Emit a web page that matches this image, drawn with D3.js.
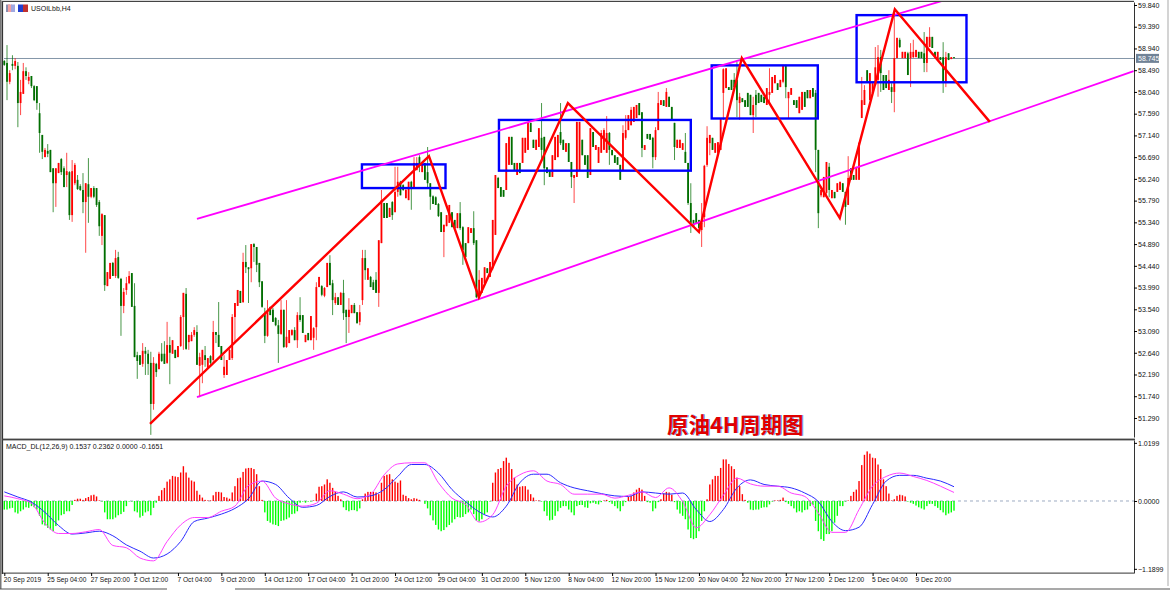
<!DOCTYPE html>
<html>
<head>
<meta charset="utf-8">
<script src="https://cdn.jsdelivr.net/npm/d3@7"></script>
<style>
body { margin: 0; background: #fff; }
text { font-family: "Liberation Sans", Arial, sans-serif; fill: #111; }
</style>
</head>
<body>
<svg id="chart" width="1170" height="591"></svg>
<script>
// USOIL H4 candles, one row = 10 bars
const opens = [
58.68,58.64,58.25,58.62,58.58,58.58,57.81,58.00,58.47,58.27,
58.37,58.16,58.16,57.60,57.15,56.69,56.82,56.84,56.46,56.15,
56.36,56.65,56.46,56.32,56.38,55.49,56.15,56.22,56.09,56.01,
55.76,56.13,55.87,56.05,56.05,55.76,55.06,55.49,54.02,54.17,
54.50,54.23,54.62,54.17,53.61,53.94,54.08,54.29,53.61,52.59,
52.59,52.41,52.68,52.62,52.43,51.58,52.41,52.30,52.62,52.62,
52.43,52.80,52.62,52.70,52.55,52.78,53.38,53.86,52.86,52.88,
53.01,53.07,52.37,52.39,52.59,52.33,52.57,52.49,53.07,53.01,
52.78,52.18,52.18,52.49,52.53,53.38,53.61,53.92,53.69,54.52,
54.41,54.39,54.89,54.83,54.50,54.12,53.46,52.99,53.59,53.53,
53.36,53.21,53.03,53.53,52.76,52.84,53.01,53.11,52.90,53.42,
53.42,52.86,53.05,52.90,52.95,53.17,54.00,54.02,53.82,54.00,
54.50,54.08,53.67,53.79,53.63,53.88,53.53,53.38,53.46,53.63,
53.48,53.28,53.73,54.60,54.15,54.21,54.10,54.15,53.88,54.91,
55.74,55.74,55.45,55.76,55.55,55.97,56.18,56.11,55.84,55.80,
56.18,56.05,56.42,56.69,56.38,56.57,56.38,56.15,55.88,55.86,
55.72,55.55,55.14,55.26,55.33,55.55,55.39,55.22,55.53,55.24,
54.91,54.91,55.12,55.22,54.97,53.79,53.88,54.08,54.39,54.21,
54.39,55.08,56.26,56.07,56.01,56.01,56.53,57.11,56.57,56.32,
56.57,56.57,56.78,56.84,57.40,57.05,56.84,56.90,57.09,57.11,
56.48,56.42,56.28,56.63,56.69,57.21,57.05,56.80,56.98,56.59,
56.26,56.28,56.42,57.05,56.73,56.73,56.32,57.21,56.84,56.57,
56.78,56.84,56.78,57.19,56.84,56.73,56.69,56.53,56.42,57.09,
57.25,57.35,57.42,57.50,57.81,57.62,56.84,57.17,57.17,57.09,
56.69,57.25,57.77,57.87,57.73,57.94,57.73,57.40,56.88,56.88,
56.84,56.80,56.57,55.74,55.39,55.53,55.39,55.18,55.45,56.53,
56.98,57.09,56.78,56.78,56.84,58.02,58.12,58.14,58.29,58.29,
58.29,57.81,57.91,57.87,58.02,57.98,57.56,57.98,58.02,57.98,
57.94,57.77,57.98,58.02,58.22,58.22,58.14,58.25,58.60,57.91,
57.98,57.87,57.87,57.60,57.67,58.04,58.08,57.91,58.12,58.02,
56.84,55.90,55.86,55.95,56.49,55.84,55.97,55.97,56.01,56.15,
55.97,55.70,56.46,56.32,56.22,56.22,57.50,57.77,58.49,57.87,
58.02,58.18,58.29,58.76,58.39,58.39,58.08,58.14,58.04,58.74,
59.12,58.74,58.74,58.84,58.74,58.76,58.76,58.87,58.87,58.84,
58.64,58.97,59.18,58.87,58.70,58.76,58.76,58.25,58.84,58.72,
58.76];
const highs = [
58.70,59.01,58.49,58.80,58.74,58.66,58.29,58.64,58.55,58.45,
58.37,58.18,58.16,57.81,57.15,56.88,56.96,56.84,56.46,56.46,
56.57,56.67,56.50,56.78,56.40,56.63,56.57,56.32,56.13,56.36,
56.15,56.67,56.05,56.09,56.05,55.80,55.53,55.49,54.31,54.50,
54.52,54.77,54.73,54.19,53.98,54.21,54.33,54.29,54.08,52.66,
52.59,52.84,52.76,52.70,52.66,52.55,52.43,52.66,52.84,52.88,
53.28,52.97,52.90,52.70,52.78,53.42,53.88,53.98,53.01,53.07,
53.17,53.21,52.64,52.70,52.78,52.53,52.59,53.30,53.07,53.69,
52.78,52.59,52.49,52.76,53.44,53.67,53.94,53.92,54.71,54.87,
54.41,54.89,54.91,54.83,54.50,54.12,53.57,53.73,53.59,53.57,
53.38,53.32,53.73,53.53,53.73,53.11,53.13,53.17,53.48,53.79,
53.42,53.01,53.05,53.40,53.17,54.10,54.21,54.04,54.00,54.50,
54.66,54.15,53.88,53.79,53.90,54.15,53.53,53.77,53.63,53.67,
53.48,53.63,54.77,54.77,54.39,54.23,54.15,54.31,54.97,56.01,
55.74,55.74,55.64,55.78,56.49,56.49,56.20,56.13,56.03,56.18,
56.20,56.69,56.69,56.73,56.59,56.57,56.90,56.15,55.90,55.88,
55.74,55.55,55.29,55.49,55.70,55.55,55.39,55.53,55.76,55.26,
54.91,55.24,55.22,55.57,54.97,54.35,54.19,54.41,54.39,54.52,
55.39,56.32,56.28,56.07,56.01,56.98,57.11,57.11,56.57,56.57,
56.57,57.09,57.09,57.40,57.40,57.05,57.05,57.29,57.81,57.11,
56.48,56.42,56.73,57.11,57.15,57.81,57.05,56.98,56.98,56.59,
56.32,57.42,57.42,57.05,56.73,56.73,57.29,57.21,56.94,56.90,
57.25,57.29,57.54,57.21,56.84,56.73,56.69,56.53,57.35,57.56,
57.56,57.73,57.73,57.77,57.81,57.62,56.94,57.17,57.17,57.11,
57.31,58.04,57.87,57.87,58.12,57.94,57.73,57.40,57.05,57.05,
56.98,57.19,56.57,56.15,55.39,55.53,55.39,55.74,56.53,57.33,
57.15,57.09,56.98,57.00,57.50,58.53,58.53,58.14,58.29,58.43,
58.66,58.02,57.91,57.87,58.02,57.98,57.94,58.08,58.02,57.98,
57.94,58.12,58.53,58.35,58.39,58.22,58.29,58.60,58.60,58.04,
58.12,57.87,57.87,57.94,58.04,58.04,58.08,58.08,58.12,58.08,
56.84,56.07,56.28,56.59,56.57,56.01,55.97,56.15,56.18,56.15,
55.97,56.71,56.46,56.32,56.49,57.00,58.35,58.18,58.49,58.43,
58.22,58.97,59.01,58.91,58.39,58.39,58.49,58.22,59.74,59.16,
59.16,58.87,58.87,58.87,59.05,59.12,58.91,58.87,58.87,59.28,
59.18,59.38,59.18,58.87,58.87,58.76,59.07,58.87,58.84,58.76,
58.76];
const lows = [
58.58,57.87,58.20,58.49,58.51,57.31,57.56,58.00,58.29,58.20,
58.12,57.85,57.67,56.78,56.65,56.69,56.69,56.38,55.55,55.66,
56.36,56.32,56.07,56.07,55.39,55.35,56.11,56.01,55.99,55.53,
54.71,55.33,55.84,55.84,55.66,55.06,54.87,53.92,54.02,54.17,
54.23,54.19,54.17,52.99,53.46,53.84,54.06,53.59,52.55,52.10,
52.39,52.35,52.18,52.18,50.94,51.46,52.14,52.30,52.45,52.41,
52.41,51.99,52.62,52.53,52.55,52.76,52.70,52.70,52.70,52.88,
52.97,52.39,51.72,52.01,52.35,52.33,52.35,52.45,52.84,52.76,
52.49,52.12,52.18,52.49,52.49,52.84,53.61,53.67,53.67,54.29,
53.67,54.10,54.52,54.31,54.00,53.57,52.84,52.97,53.42,53.28,
53.19,52.43,53.01,52.74,52.74,52.84,52.99,52.90,52.74,53.28,
53.05,52.86,52.90,52.90,52.70,52.90,54.00,53.81,53.79,54.00,
54.04,53.42,53.63,53.63,53.63,53.32,52.84,53.05,53.46,53.46,
53.25,53.21,53.63,54.15,54.15,54.00,53.94,53.88,53.59,54.91,
55.43,55.43,55.45,55.39,55.55,55.87,55.90,55.99,55.84,55.80,
55.60,56.05,56.42,56.38,56.38,56.22,56.07,55.60,55.72,55.70,
55.45,55.14,54.62,55.26,55.33,55.24,55.22,55.22,55.18,54.46,
54.62,54.91,55.12,54.87,53.77,53.79,53.88,54.08,54.29,54.21,
54.35,55.08,56.05,55.87,55.87,56.01,56.53,56.53,56.42,56.32,
56.36,56.57,56.78,56.84,57.21,56.88,56.84,56.90,56.63,56.11,
56.36,56.28,56.28,56.63,56.69,56.94,56.84,56.80,56.59,56.05,
55.74,56.28,56.42,56.73,56.53,56.26,56.32,56.90,56.84,56.57,
56.78,56.84,56.78,56.53,56.73,56.57,56.53,56.22,56.42,57.05,
57.25,57.35,57.42,57.50,57.56,56.69,56.84,57.07,57.05,56.46,
56.63,57.25,57.77,57.75,57.73,57.73,57.46,56.63,56.88,56.88,
56.84,56.57,55.70,55.12,55.24,55.33,55.22,54.83,55.24,56.49,
56.73,56.84,56.78,56.78,56.84,57.46,58.12,58.08,58.08,58.08,
57.52,57.46,57.83,57.73,57.73,57.56,57.19,57.52,57.81,57.83,
57.81,57.77,57.77,58.02,58.22,58.08,58.14,58.22,57.91,57.50,
57.98,57.77,57.71,57.60,57.67,57.73,57.91,57.91,57.94,56.38,
55.22,55.86,55.86,55.90,55.86,55.84,55.84,55.97,56.01,55.97,
55.29,55.70,56.22,56.22,56.22,56.22,57.50,57.77,58.25,57.87,
58.02,58.18,57.94,58.04,58.08,58.12,58.08,57.81,57.62,58.74,
58.95,58.74,58.74,58.39,58.14,58.74,58.76,58.74,58.74,58.45,
58.45,58.97,58.95,58.76,58.70,58.70,58.02,58.14,58.70,58.72,
58.74];
const closes = [
58.60,58.25,58.43,58.58,58.68,57.81,58.04,58.47,58.37,58.35,
58.16,57.87,57.81,57.19,56.80,56.84,56.76,56.38,56.15,56.46,
56.57,56.38,56.07,56.40,55.49,56.40,56.53,56.03,56.01,55.76,
56.15,55.87,56.05,55.87,55.70,55.26,55.51,54.04,54.31,54.50,
54.23,54.60,54.19,53.61,53.90,54.08,54.23,53.59,52.55,52.47,
52.39,52.68,52.62,52.41,51.58,52.43,52.24,52.62,52.47,52.41,
52.80,52.64,52.90,52.53,52.78,53.38,53.88,52.72,53.01,53.01,
53.11,52.39,52.55,52.70,52.49,52.53,52.43,53.07,53.01,52.76,
52.49,52.35,52.49,52.70,53.38,53.67,53.94,53.67,54.52,54.41,
54.37,54.89,54.83,54.46,54.10,53.59,52.99,53.48,53.42,53.28,
53.21,53.03,53.53,52.76,52.97,53.11,53.11,52.90,53.42,53.32,
53.05,53.01,52.90,53.40,53.15,54.00,54.21,53.84,53.98,54.50,
54.04,53.73,53.79,53.63,53.88,53.46,53.38,53.53,53.63,53.46,
53.25,53.48,54.60,54.35,54.39,54.00,53.94,53.88,54.97,55.80,
55.43,55.43,55.64,55.49,55.97,56.18,55.90,56.01,56.01,56.18,
56.05,56.57,56.57,56.53,56.57,56.22,56.15,55.87,55.72,55.70,
55.47,55.14,55.29,55.49,55.70,55.24,55.22,55.53,55.22,54.77,
54.62,55.24,55.22,54.91,53.79,54.15,54.19,54.41,54.29,54.52,
55.39,56.32,56.05,55.87,55.87,56.98,57.11,56.53,56.42,56.57,
56.36,57.09,57.09,57.40,57.21,56.88,57.05,57.29,56.84,56.46,
56.36,56.28,56.73,57.11,57.15,56.98,56.84,56.98,56.59,56.28,
56.32,57.42,57.42,56.73,56.53,56.26,57.29,56.90,56.94,56.90,
57.19,57.25,57.19,56.84,56.73,56.57,56.53,56.22,57.19,57.25,
57.56,57.67,57.73,57.77,57.56,56.88,56.94,57.07,57.05,56.69,
57.25,57.81,57.87,57.75,58.04,57.73,57.46,56.90,57.05,57.05,
56.98,56.57,55.74,55.33,55.24,55.33,55.22,55.33,56.51,57.09,
57.15,56.84,56.98,57.00,57.50,58.51,58.53,58.08,58.08,58.14,
57.87,57.94,57.83,57.73,57.73,57.56,57.77,57.77,57.81,57.83,
57.81,58.12,58.04,58.35,58.39,58.08,58.29,58.60,58.14,58.04,
58.12,57.77,57.71,57.94,58.04,57.73,57.91,58.08,57.94,56.84,
55.53,56.01,56.28,56.59,56.01,56.01,55.84,56.15,56.18,55.97,
55.66,56.26,56.22,56.22,56.49,56.98,57.87,58.08,58.25,58.43,
58.22,58.55,58.76,58.43,58.08,58.12,58.29,58.04,58.74,59.16,
58.97,58.87,58.87,58.39,58.87,58.87,58.91,58.74,58.74,58.64,
59.18,59.18,58.95,58.76,58.87,58.70,58.25,58.76,58.70,58.76,
58.745];

// MACD_DL(12,26,9) histogram, one row = 10 bars
const macdHist = [
-.15,-.15,-.13,-.12,-.20,-.22,-.18,-.15,-.11,-.12,
-.09,-.11,-.15,-.26,-.41,-.43,-.47,-.50,-.53,-.44,
-.34,-.25,-.23,-.18,-.18,-.07,.02,.04,.04,.02,
.05,.07,.10,.11,.08,.01,-.01,-.20,-.32,-.32,
-.32,-.29,-.25,-.23,-.19,-.09,-.01,-.01,-.18,-.20,
-.29,-.26,-.20,-.18,-.25,-.12,-.03,.09,.19,.23,
.34,.38,.44,.43,.42,.50,.61,.50,.41,.36,
.34,.18,.11,.06,.02,.01,.01,.10,.16,.16,
.15,.07,.06,.04,.15,.26,.40,.41,.51,.57,
.58,.58,.56,.47,.26,.02,-.20,-.35,-.38,-.41,
-.42,-.44,-.35,-.34,-.32,-.29,-.23,-.22,-.18,-.03,
-.01,-.03,-.01,-.01,.01,.13,.25,.26,.29,.38,
.32,.23,.16,.09,.03,-.11,-.16,-.18,-.16,-.16,
-.18,-.13,.03,.13,.16,.16,.16,.15,.12,.32,
.44,.46,.47,.38,.34,.32,.36,.11,.09,.05,
.03,.05,.04,.02,.00,-.05,-.13,-.25,-.34,-.42,
-.50,-.53,-.51,-.46,-.42,-.38,-.32,-.28,-.29,-.28,
-.23,-.20,-.15,-.23,-.35,-.36,-.32,-.23,-.20,-.01,
.32,.50,.56,.58,.70,.76,.67,.56,.41,.29,
.25,.26,.26,.20,.12,.06,.01,.01,-.01,-.18,
-.26,-.34,-.33,-.26,-.18,-.12,-.09,-.09,-.15,-.20,
-.25,-.09,-.07,-.07,-.11,-.12,-.04,-.03,-.05,-.06,
-.02,.01,.02,-.02,-.05,-.09,-.13,-.18,-.09,-.02,
.07,.09,.15,.20,.23,.20,.09,-.02,-.03,-.18,
-.13,-.02,.03,.13,.16,.15,.11,-.02,-.15,-.22,
-.26,-.32,-.50,-.65,-.67,-.65,-.53,-.35,-.18,.03,
.29,.38,.44,.44,.58,.73,.73,.65,.61,.56,
.41,.26,.12,.02,-.03,-.15,-.16,-.15,-.15,-.12,
-.11,-.11,-.06,-.01,.01,.01,.02,.06,-.02,-.05,
-.09,-.13,-.20,-.18,-.20,-.16,-.15,-.09,-.07,-.35,
-.53,-.67,-.70,-.58,-.58,-.53,-.38,-.26,-.09,-.09,
-.01,.01,.09,.16,.20,.35,.63,.81,.87,.83,
.76,.75,.64,.56,.38,.26,.13,.01,.03,.09,
.11,.10,.08,-.01,-.03,-.05,-.08,-.11,-.13,-.15,
-.09,-.05,-.05,-.09,-.12,-.16,-.20,-.25,-.22,-.20,
-.17];

// the two MACD lines
const macdLine = [
.09,.04,-.04,-.39,-.57,-.57,-.54,-.50,-.78,-.82,-1.00,-1.05,-.71,-.42,-.29,-.29,-.18,-.09,.27,.35,
.05,-.05,-.09,-.04,.18,.12,.04,.12,.46,.65,
.67,.67,.32,.05,-.06,-.37,-.24,.26,.46,.53,.35,.29,.12,.12,.12,.05,.10,.16,.06,.23,
-.01,-.47,-.24,.10,.40,.30,.26,.26,.14,.08,
-.21,-.55,-.55,-.15,.26,.43,.49,.43,.36,.26,.15];
const signalLine = [
.16,.07,-.02,-.20,-.43,-.58,-.56,-.53,-.61,-.77,-.88,-1.00,-.93,-.71,-.36,-.30,-.23,-.13,.04,.35,
.29,.05,-.11,-.08,.08,.16,.07,.09,.20,.43,
.64,.64,.49,.20,-.01,-.19,-.28,-.09,.32,.47,.47,.32,.23,.18,.13,.09,.08,.16,.14,.12,
.14,-.15,-.36,-.15,.23,.37,.29,.26,.23,.14,
-.01,-.36,-.52,-.46,-.06,.35,.45,.45,.40,.35,.25];
const lineBars = d3.range(0, 351, 5);

const priceTicks = [59.84,59.39,58.94,58.49,58.04,57.59,57.14,56.69,56.24,55.79,55.34,54.89,54.44,53.99,53.54,53.09,52.64,52.19,51.74,51.29];
const macdTicks = [1.0199, 0, -1.1899];
const lastPrice = 58.745;
const timeLabels = ['20 Sep 2019','25 Sep 04:00','27 Sep 20:00','2 Oct 12:00','7 Oct 04:00','9 Oct 20:00','14 Oct 12:00','17 Oct 04:00','21 Oct 20:00','24 Oct 12:00','29 Oct 04:00','31 Oct 20:00','5 Nov 12:00','8 Nov 04:00','12 Nov 20:00','15 Nov 12:00','20 Nov 04:00','22 Nov 20:00','27 Nov 12:00','2 Dec 12:00','5 Dec 04:00','9 Dec 20:00'];
const timeBars = timeLabels.map((d, i) => i * 16);

// hand drawn objects on the chart, [bar, price]
const upperChannel = [[71, 55.41], [346.6, 59.94]];
const lowerChannel = [[71, 51.72], [416.2, 58.47]];
const zigzag = [[53.7, 51.17], [156.5, 56.71], [174.9, 53.79], [207.7, 57.81], [256, 55.14], [271.8, 58.74], [307.9, 55.43], [328.2, 59.75], [363.2, 57.42]];
// [bar from, bar to, price top, price bottom]
const boxes = [[131.8, 162.6, 56.54, 56.05], [182.3, 253, 57.46, 56.41], [260.7, 299.8, 58.59, 57.49], [314.1, 354.6, 59.63, 58.24]];

const plotRight = 1134;
const svg = d3.select('#chart');
const x = d3.scaleLinear().domain([0, 350]).range([4.3, 954]);
const yPrice = d3.scaleLinear().domain([50.896, 59.902]).range([437, 2]);
const yMacd = d3.scaleLinear().domain([-1.263, 1.07]).range([573, 440]);

svg.append('clipPath').attr('id', 'main-clip').append('rect')
    .attr('x', 4).attr('y', 2).attr('width', plotRight - 4).attr('height', 436);

// window frame
svg.append('rect').attr('x', 0).attr('y', 0).attr('width', 1.5).attr('height', 589).attr('fill', '#777');
svg.append('rect').attr('x', 1.7).attr('y', 1).attr('width', 1.4).attr('height', 573).attr('fill', '#333');
svg.append('rect').attr('x', 2).attr('y', 0.8).attr('width', plotRight - 2).attr('height', 1.2).attr('fill', '#444');
svg.append('rect').attr('x', 2).attr('y', 438.6).attr('width', plotRight - 1).attr('height', 1.8).attr('fill', '#444');
svg.append('rect').attr('x', 2).attr('y', 572.6).attr('width', plotRight - 2).attr('height', 1).attr('fill', '#333');
svg.append('rect').attr('x', 1167.5).attr('y', 0).attr('width', 1).attr('height', 586).attr('fill', '#aaa');
svg.append('rect').attr('x', 0).attr('y', 588.5).attr('width', 167).attr('height', 1).attr('fill', '#555');
svg.append('rect').attr('x', 235).attr('y', 588.5).attr('width', 935).attr('height', 1).attr('fill', '#555');

// toolbar icons next to the symbol name
const iconColors = [[6, '#8a8fb0'], [8, '#f4a0a0'], [11, '#a0a8e0'], [18, '#2040d0'], [23, '#c03030']];
svg.selectAll('.icon').data(iconColors).enter().append('rect')
    .attr('class', 'icon')
    .attr('x', (d) => d[0]).attr('y', 4.5)
    .attr('width', (d) => (d[0] < 18 ? 4 : 5)).attr('height', 7.5)
    .attr('fill', (d) => d[1]);

// current price line
svg.append('line')
    .attr('x1', 4).attr('x2', plotRight)
    .attr('y1', yPrice(lastPrice) + 0.6).attr('y2', yPrice(lastPrice) + 0.6)
    .attr('stroke', '#8496a8').attr('stroke-width', 1);

// candles: red is up, green is down
const candles = svg.append('g').selectAll('g').data(closes).enter().append('g');
const candleColor = (d, i) => (d >= opens[i] ? '#ff0000' : '#006e00');
candles.append('line')
    .attr('x1', (d, i) => x(i)).attr('x2', (d, i) => x(i))
    .attr('y1', (d, i) => yPrice(highs[i])).attr('y2', (d, i) => yPrice(lows[i]))
    .attr('stroke', candleColor).attr('stroke-width', 0.9).attr('stroke-opacity', 0.8);
candles.append('rect')
    .attr('x', (d, i) => x(i) - 0.9)
    .attr('y', (d, i) => yPrice(Math.max(opens[i], d)))
    .attr('width', 1.8)
    .attr('height', (d, i) => Math.max(1, Math.abs(yPrice(opens[i]) - yPrice(d))))
    .attr('fill', candleColor);

// channel, boxes and zigzag
const overlay = svg.append('g').attr('clip-path', 'url(#main-clip)');
const priceLine = d3.line().x((d) => x(d[0])).y((d) => yPrice(d[1]));
overlay.selectAll('.box').data(boxes).enter().append('rect')
    .attr('class', 'box')
    .attr('x', (d) => x(d[0])).attr('y', (d) => yPrice(d[2]))
    .attr('width', (d) => x(d[1]) - x(d[0]))
    .attr('height', (d) => yPrice(d[3]) - yPrice(d[2]))
    .attr('fill', 'none').attr('stroke', '#0000ff').attr('stroke-width', 2.4);
[upperChannel, lowerChannel].forEach((c) => {
    overlay.append('path').attr('d', priceLine(c))
        .attr('fill', 'none').attr('stroke', '#ff00ff').attr('stroke-width', 1.8);
});
overlay.append('path').attr('d', priceLine(zigzag))
    .attr('fill', 'none').attr('stroke', '#ff0000').attr('stroke-width', 2.4);

// price axis
const priceAxis = svg.append('g')
    .attr('transform', `translate(${plotRight},0)`)
    .call(d3.axisRight(yPrice).tickValues(priceTicks).tickFormat(d3.format('.3f')).tickSize(3).tickPadding(1).tickSizeOuter(0));
priceAxis.select('.domain').attr('stroke', '#333');
priceAxis.selectAll('text').attr('font-size', 7).style('font-family', '"Liberation Sans"');

// last price tag
svg.append('rect').attr('x', 1136).attr('y', yPrice(lastPrice) - 4).attr('width', 23).attr('height', 9).attr('fill', '#708296');
svg.append('text').attr('x', 1138).attr('y', yPrice(lastPrice) + 3)
    .attr('font-size', 7).style('fill', '#fff').text(lastPrice.toFixed(3));

// MACD panel
const macdPanel = svg.append('g');
macdPanel.append('line')
    .attr('x1', 4).attr('x2', plotRight)
    .attr('y1', yMacd(0)).attr('y2', yMacd(0))
    .attr('stroke', '#8496b4').attr('stroke-dasharray', '3,3').attr('stroke-width', 0.8);
macdPanel.selectAll('.hist').data(macdHist).enter().append('rect')
    .attr('class', 'hist')
    .attr('x', (d, i) => x(i) - 0.7)
    .attr('y', (d) => yMacd(Math.max(d, 0)))
    .attr('width', 1.4)
    .attr('height', (d) => Math.abs(yMacd(d) - yMacd(0)))
    .attr('fill', (d) => (d >= 0 ? '#ff0000' : '#00ff00'));
const macdPath = d3.line()
    .x((d, i) => x(lineBars[i]))
    .y((d) => yMacd(d))
    .curve(d3.curveMonotoneX);
macdPanel.append('path').attr('d', macdPath(signalLine))
    .attr('fill', 'none').attr('stroke', '#2a2aff').attr('stroke-width', 1);
macdPanel.append('path').attr('d', macdPath(macdLine))
    .attr('fill', 'none').attr('stroke', '#ff40ff').attr('stroke-width', 1);

const macdAxis = svg.append('g')
    .attr('transform', `translate(${plotRight},0)`)
    .call(d3.axisRight(yMacd).tickValues(macdTicks).tickFormat(d3.format('.4f')).tickSize(3).tickPadding(1).tickSizeOuter(0));
macdAxis.select('.domain').attr('stroke', '#333');
macdAxis.selectAll('text').attr('font-size', 7).style('font-family', '"Liberation Sans"');

// time axis
const timeAxis = svg.append('g')
    .attr('transform', 'translate(0,573)')
    .call(d3.axisBottom(x).tickValues(timeBars).tickFormat((d, i) => timeLabels[i]).tickSize(3).tickPadding(1).tickSizeOuter(0));
timeAxis.select('.domain').remove();
timeAxis.selectAll('text')
    .attr('text-anchor', 'start').attr('dx', -1)
    .attr('font-size', 6.6).style('font-family', '"Liberation Sans"');

// labels
svg.append('text').attr('x', 31).attr('y', 11).attr('font-size', 7).text('USOILbb,H4');
svg.append('text').attr('x', 6).attr('y', 449).attr('font-size', 7).text('MACD_DL(12,26,9) 0.1537 0.2362 0.0000 -0.1651');

const chartTitle = '原油4H周期图';
svg.append('text').attr('x', 668).attr('y', 433)
    .attr('font-size', 21.5).attr('font-weight', 700)
    .style('font-family', '"Noto Sans CJK SC"').style('fill', '#5a9ae0').text(chartTitle);
svg.append('text').attr('x', 667).attr('y', 432.5)
    .attr('font-size', 21.5).attr('font-weight', 700)
    .style('font-family', '"Noto Sans CJK SC"').style('fill', '#e00000').text(chartTitle);
</script>
</body>
</html>
